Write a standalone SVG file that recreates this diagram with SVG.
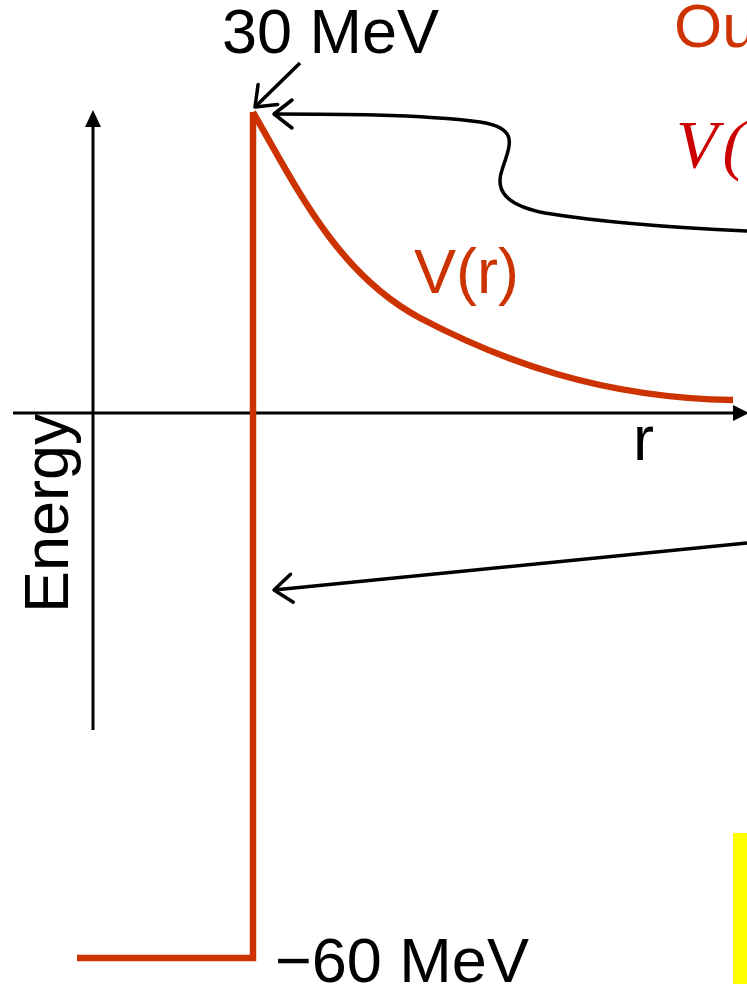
<svg xmlns="http://www.w3.org/2000/svg" width="747" height="984" viewBox="0 0 747 984">
<style>
.lbl{font-family:"Liberation Sans",Arial,sans-serif;font-size:63px;fill:#000}
.org{fill:#CC3300}
.ax{stroke:#000;stroke-width:3;fill:none}
.pot{stroke:#CC3300;stroke-width:6.5;fill:none}
.con{stroke:#000;stroke-width:3.5;fill:none}
</style>
<defs>
<marker id="open" markerUnits="userSpaceOnUse" markerWidth="40" markerHeight="40" viewBox="-25 -20 30 40" refX="0" refY="0" orient="auto">
<path d="M-18,-14 L0,0 L-18,14" fill="none" stroke="#000" stroke-width="3.5" stroke-linecap="round" stroke-linejoin="round"/>
</marker>
</defs>
<rect width="747" height="984" fill="#fff"/>
<g id="axes">
<line class="ax" x1="93" y1="730" x2="93" y2="124"/>
<polygon points="93,110 85,127 101,127" fill="#000"/>
<line class="ax" x1="13" y1="413" x2="735" y2="413"/>
<polygon points="749,413 733,405 733,421" fill="#000"/>
<text class="lbl" transform="translate(68,613) rotate(-90)">Energy</text>
<text class="lbl" x="633" y="460">r</text>
</g>
<g id="potential">
<path class="pot" d="M77,958 H253 V112"/>
<path class="pot" d="M253,112 C300,195 340,275 420,318 C500,360 600,398 733,400"/>
<text class="lbl org" x="414" y="293">V(r)</text>
</g>
<g id="label-30">
<text class="lbl" x="222" y="53">30 MeV</text>
</g>
<g id="label-60">
<text class="lbl" x="275" y="982">−60 MeV</text>
</g>
<g id="label-out">
<text x="674" y="47" font-family="'Liberation Sans',Arial,sans-serif" font-size="62" fill="#CC3300">Ou</text>
</g>
<g id="label-v">
<text x="676" y="167" font-family="'Liberation Serif','Times New Roman',serif" font-style="italic" font-size="68" letter-spacing="5" fill="#CC0000">V(</text>
</g>
<g id="highlight">
<rect x="733" y="833" width="16" height="151" fill="#FFFF00"/>
</g>
<g id="connectors">
<path class="con" d="M300,63 L255,107" marker-end="url(#open)"/>
<path class="con" d="M747,231 C680,228 600,222 545,213 C505,205 495,190 502,170 C510,145 520,128 480,122 C420,114 330,114 274,114" marker-end="url(#open)"/>
<path class="con" d="M747,543 L274,590" marker-end="url(#open)"/>
</g>
</svg>
